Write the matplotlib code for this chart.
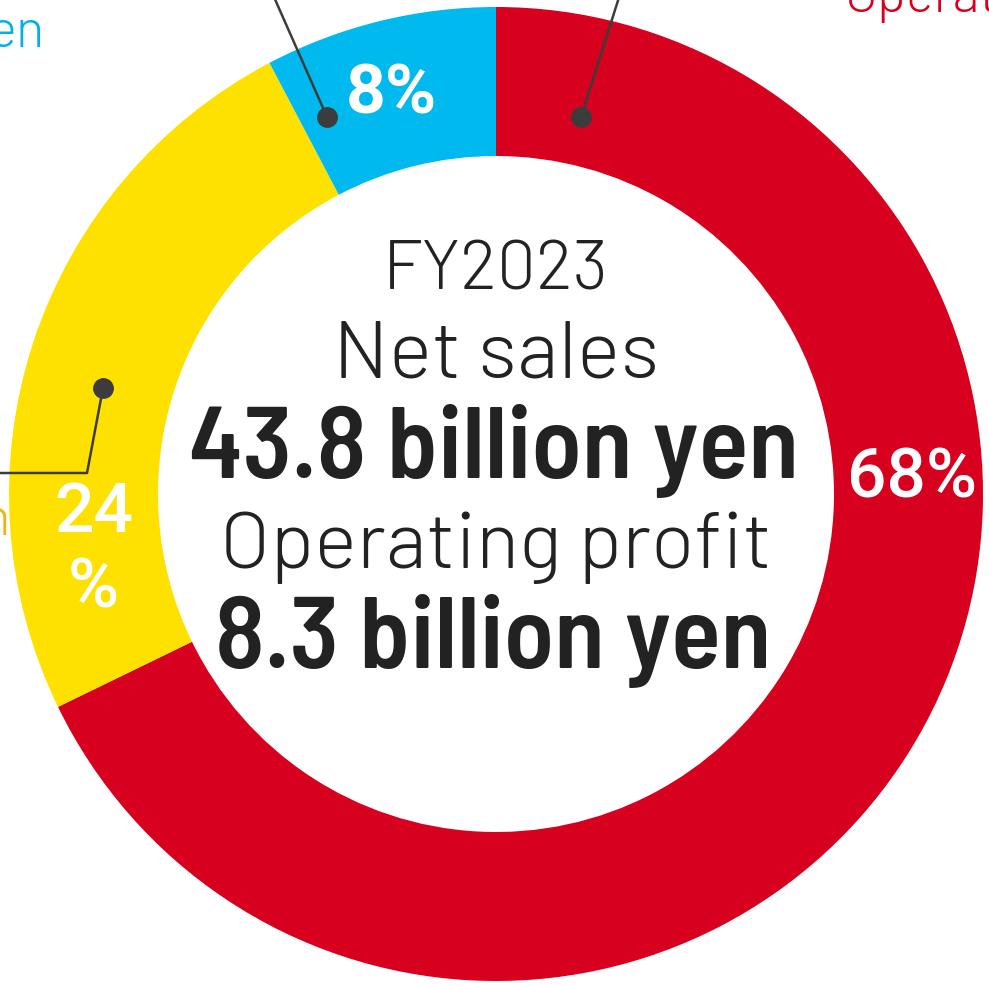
import matplotlib
matplotlib.use("Agg")
import matplotlib.pyplot as plt

# dados do gráfico (participação nas vendas líquidas)
segmentos = ["Vermelho", "Amarelo", "Azul"]
participacao = [67.8, 24.5, 7.7]
cores = ["#D7001F", "#FFE100", "#00B9EE"]
rotulos_pct = ["68%", "24\n%", "8%"]

titulo_ano = "FY2023"
titulo_vendas = "Net sales"
valor_vendas = "43.8 billion yen"
titulo_lucro = "Operating profit"
valor_lucro = "8.3 billion yen"

L, A = 989, 986
cx, cy = 496, 494          # centro da rosca em pixels (origem no topo)
r_ext, r_int = 487, 338

fonte_leve = ["Barlow", "DejaVu Sans"]
fonte_forte = ["Barlow Semi Condensed", "DejaVu Sans"]
fonte_pct = ["Roboto", "Liberation Sans", "DejaVu Sans"]
cinza = "#3C3C3C"
texto = "#222222"


def py(y):
    # converte y de pixel (topo) para coordenada do eixo
    return A - y


fig = plt.figure(figsize=(L / 100, A / 100), dpi=100)
ax = fig.add_axes([0, 0, 1, 1])
ax.pie(participacao, colors=cores, radius=r_ext, center=(cx, py(cy)),
       startangle=90, counterclock=False,
       wedgeprops=dict(width=r_ext - r_int, linewidth=0))
ax.set_xlim(0, L)
ax.set_ylim(0, A)
ax.set_aspect("equal")
ax.axis("off")

# textos do centro
ax.text(cx, py(290), titulo_ano, ha="center", va="baseline", fontsize=50,
        family=fonte_leve, weight=300, color=texto)
ax.text(cx, py(377), titulo_vendas, ha="center", va="baseline", fontsize=59,
        family=fonte_leve, weight=300, color=texto)
ax.text(cx - 2, py(478), valor_vendas, ha="center", va="baseline", fontsize=74,
        family=fonte_forte, weight=600, color=texto)
ax.text(cx, py(568), titulo_lucro, ha="center", va="baseline", fontsize=58,
        family=fonte_leve, weight=300, color=texto)
ax.text(cx - 3, py(668), valor_lucro, ha="center", va="baseline", fontsize=74,
        family=fonte_forte, weight=600, color=texto)

# porcentagens
ax.text(912, py(498), rotulos_pct[0], ha="center", va="baseline", fontsize=50,
        family=fonte_pct, weight=500, color="white")
ax.text(94, py(532), rotulos_pct[1].split("\n")[0], ha="center", va="baseline",
        fontsize=50, family=fonte_pct, weight=500, color="white")
ax.text(93, py(608), rotulos_pct[1].split("\n")[1], ha="center", va="baseline",
        fontsize=50, family=fonte_pct, weight=500, color="white")
ax.text(391, py(113), rotulos_pct[2], ha="center", va="baseline", fontsize=50,
        family=fonte_pct, weight=600, color="white")

# linhas de chamada
ax.plot([327, 270], [py(117), py(-12)], color=cinza, lw=1.8, solid_capstyle="butt")
ax.plot([581, 622], [py(117), py(-12)], color=cinza, lw=1.8, solid_capstyle="butt")
ax.plot([103, 87, -10], [py(388), py(473), py(473)], color=cinza, lw=1.8)
ax.plot([327, 581, 103], [py(117), py(117), py(388)], "o", color=cinza, ms=14)

# rótulos externos (cortados pela borda)
ax.text(44, py(47), "en", ha="right", va="baseline", fontsize=38,
        family=fonte_leve, weight=300, color="#00B0E6", clip_on=False)
ax.text(845, py(12), "Operating", ha="left", va="baseline", fontsize=38,
        family=fonte_leve, weight=300, color="#D7001F", clip_on=False)
ax.text(10, py(535), "n", ha="right", va="baseline", fontsize=38,
        family=fonte_leve, weight=300, color="#F0B400", clip_on=False)

fig.savefig("out.png", dpi=100)
